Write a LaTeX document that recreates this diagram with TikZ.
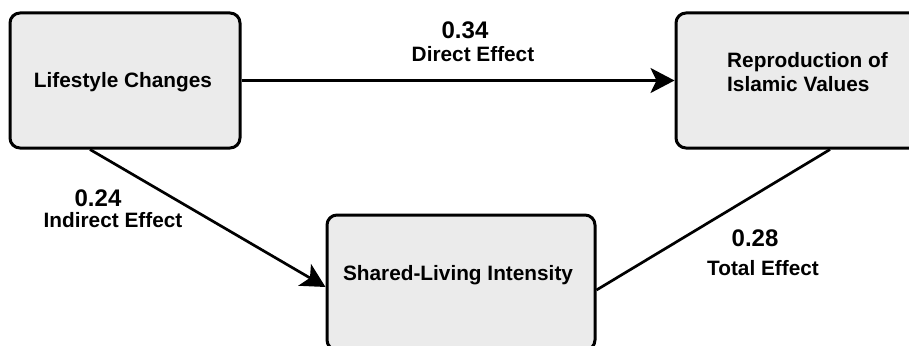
\documentclass[tikz,border=0pt]{standalone}
\usepackage{fontspec}
\setmainfont{Liberation Sans}
\usetikzlibrary{arrows.meta}
\definecolor{boxfill}{RGB}{235,235,235}
\begin{document}
\begin{tikzpicture}[x=1pt,y=-1pt,
  box/.style={draw=black,line width=3pt,rounded corners=10pt,fill=boxfill,inner sep=0pt},
  txt/.style={inner sep=0pt,font=\fontsize{20.8}{24}\selectfont\bfseries},
  num/.style={inner sep=0pt,font=\fontsize{24}{28}\selectfont\bfseries},
  conn/.style={line width=2.7pt},
  arr/.style={conn,-{Stealth[length=24pt,width=25pt,inset=6pt]}}]
\useasboundingbox (0,0) rectangle (909,345);
\clip (0,0) rectangle (909,345);
\fill[white] (0,0) rectangle (909,345);
\node[box,minimum width=230pt,minimum height=135pt] (life) at (125,80.5) {};
\node[box,minimum width=262pt,minimum height=135pt] (repro) at (807,80.5) {};
\node[box,minimum width=268pt,minimum height=135pt] (shared) at (461,282.5) {};
\node[txt] (lifeT) at (123,82) {Lifestyle Changes};
\node[txt,anchor=west,align=left] (reproT) at (727,72) {Reproduction of\\Islamic Values};
\node[txt] (sharedT) at (458,275) {Shared-Living Intensity};
\draw[arr] (life.east) -- (repro.west);
\draw[arr] ([xshift=-35pt]life.south) -- ([yshift=-4.5pt]shared.west);
\draw[conn] ([yshift=-7.5pt]shared.east) -- ([xshift=23pt]repro.south);
\node[num] (n1) at (465,30) {0.34};
\node[txt] (l1) at (473,54) {Direct Effect};
\node[num] (n2) at (98,198) {0.24};
\node[txt] (l2) at (113,220) {Indirect Effect};
\node[num] (n3) at (755,238) {0.28};
\node[txt] (l3) at (763,268) {Total Effect};
\end{tikzpicture}
\end{document}
